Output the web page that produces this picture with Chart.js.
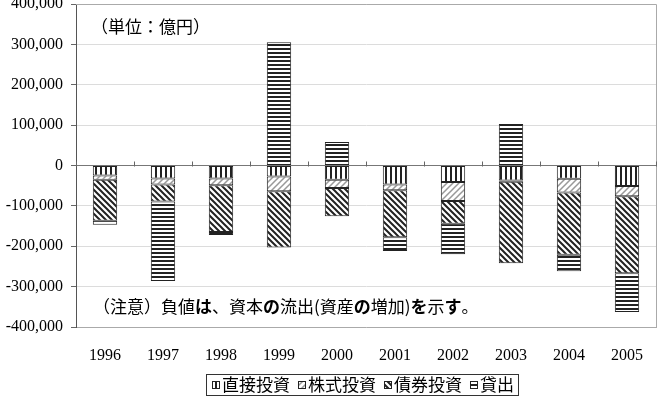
<!DOCTYPE html>
<html>
<head>
<meta charset="utf-8">
<script src="https://cdn.jsdelivr.net/npm/chart.js@4"></script>
<style>
  html, body { margin: 0; padding: 0; background: #fff; }
  #chart { display: block; }
</style>
</head>
<body>
<canvas id="chart" width="662" height="404"></canvas>
<script>
// 対外投資の内訳 (単位：億円)
const categories = ['1996', '1997', '1998', '1999', '2000', '2001', '2002', '2003', '2004', '2005'];
const directInvest = [-25000, -32000, -32000, -27000, -35000, -47000, -41000, -37000, -33000, -51000];
const stockInvest = [-10000, -15000, -17000, -37000, -21000, -14000, -47000, -3000, -34000, -25000];
const bondInvest = [-102000, -42000, -116000, -139000, -70000, -117000, -56000, -202000, -154000, -191000];
const loans = [-10000, -197000, -7000, 305000, 58000, -34000, -76000, 103000, -41000, -96000];
const seriesNames = ['直接投資', '株式投資', '債券投資', '貸出'];
const yTicks = [-400000, -300000, -200000, -100000, 0, 100000, 200000, 300000, 400000];

const serif = "'Liberation Serif', 'DejaVu Serif', serif";
const jp = "'Noto Sans CJK JP', sans-serif";

// ハッチング用のパターン
function makePattern(kind) {
    const c = document.createElement('canvas');
    const g = c.getContext('2d');
    if (kind === 'vertical') {
        c.width = 5; c.height = 5;
        g.fillStyle = '#fff'; g.fillRect(0, 0, 5, 5);
        g.fillStyle = '#222'; g.fillRect(0, 0, 2, 5);
    } else if (kind === 'horizontal') {
        c.width = 4; c.height = 4;
        g.fillStyle = '#fff'; g.fillRect(0, 0, 4, 4);
        g.fillStyle = '#222'; g.fillRect(0, 0, 4, 2);
    } else {
        const s = 6;
        c.width = s; c.height = s;
        g.fillStyle = '#fff'; g.fillRect(0, 0, s, s);
        g.strokeStyle = kind === 'slash' ? '#999' : '#222';
        g.lineWidth = kind === 'slash' ? 1.5 : 2;
        g.beginPath();
        if (kind === 'slash') {
            g.moveTo(-1, s + 1); g.lineTo(s + 1, -1);
            g.moveTo(-1, 1); g.lineTo(1, -1);
            g.moveTo(s - 1, s + 1); g.lineTo(s + 1, s - 1);
        } else {
            g.moveTo(-1, -1); g.lineTo(s + 1, s + 1);
            g.moveTo(-1, s - 1); g.lineTo(1, s + 1);
            g.moveTo(s - 1, -1); g.lineTo(s + 1, 1);
        }
        g.stroke();
    }
    return document.getElementById('chart').getContext('2d').createPattern(c, 'repeat');
}

const patterns = [makePattern('vertical'), makePattern('slash'), makePattern('backslash'), makePattern('horizontal')];

// 枠線・目盛り・注記・凡例
const decorPlugin = {
    id: 'decor',
    beforeDatasetsDraw(chart) {
        const { ctx, chartArea: a, scales } = chart;
        ctx.save();
        ctx.strokeStyle = '#aaa';
        ctx.lineWidth = 1;
        ctx.beginPath();
        ctx.moveTo(a.left, a.top + 0.5); ctx.lineTo(a.right + 0.5, a.top + 0.5);
        ctx.lineTo(a.right + 0.5, a.bottom);
        ctx.stroke();
        // ゼロ線上の区切り目盛り
        const y0 = Math.round(scales.y.getPixelForValue(0)) + 0.5;
        ctx.strokeStyle = '#666';
        ctx.beginPath();
        for (let i = 0; i <= categories.length; i++) {
            const x = Math.round(scales.x.getPixelForValue(i - 0.5)) + 0.5;
            ctx.moveTo(x, y0); ctx.lineTo(x, y0 - 5);
        }
        ctx.stroke();
        ctx.restore();
    },
    afterDraw(chart) {
        const { ctx } = chart;
        ctx.save();
        ctx.fillStyle = '#000';
        ctx.textBaseline = 'middle';
        ctx.font = '17px ' + jp;
        ctx.fillText('（単位：億円）', 91, 27);

        // 注記 (かなは太字)
        let x = 93;
        const note = '（注意）負値は、資本の流出(資産の増加)を示す。';
        for (const ch of note) {
            const bold = /[\u3041-\u309f]/.test(ch);
            ctx.font = (bold ? 'bold ' : '') + '17px ' + jp;
            ctx.fillText(ch, x, 307);
            x += ctx.measureText(ch).width;
        }

        // 凡例
        ctx.font = '17px ' + jp;
        const box = 8, gap = 2, itemGap = 8;
        const widths = seriesNames.map(n => box + gap + ctx.measureText(n).width);
        const total = widths.reduce((s, w) => s + w, 0) + itemGap * (seriesNames.length - 1);
        const cx = 363;
        let lx = Math.round(cx - total / 2);
        const ly = 385;
        ctx.strokeStyle = '#333';
        ctx.lineWidth = 1;
        ctx.strokeRect(lx - 5.5, 374.5, total + 10, 21);
        seriesNames.forEach((n, i) => {
            ctx.fillStyle = patterns[i];
            ctx.fillRect(lx, ly - 4, box, box);
            ctx.strokeStyle = '#222';
            ctx.strokeRect(lx + 0.5, ly - 3.5, box - 1, box - 1);
            ctx.fillStyle = '#000';
            ctx.fillText(n, lx + box + gap, ly);
            lx += widths[i] + itemGap;
        });
        ctx.restore();
    }
};

const seriesData = [directInvest, stockInvest, bondInvest, loans];

new Chart(document.getElementById('chart'), {
    type: 'bar',
    data: {
        labels: categories,
        datasets: seriesNames.map((name, i) => ({
            label: name,
            data: seriesData[i],
            backgroundColor: patterns[i],
            borderColor: '#222',
            borderWidth: 1,
            borderSkipped: false,
            barPercentage: 0.42,
            categoryPercentage: 1
        }))
    },
    options: {
        responsive: false,
        animation: false,
        devicePixelRatio: 1,
        layout: { padding: { top: 4, right: 6, left: 0, bottom: 0 } },
        plugins: {
            legend: { display: false },
            tooltip: { enabled: false }
        },
        scales: {
            x: {
                stacked: true,
                grid: { display: false, drawTicks: false },
                border: { display: true, color: '#aaa' },
                ticks: {
                    font: { size: 16, family: serif },
                    color: '#000',
                    padding: 19,
                    maxRotation: 0
                },
                afterFit(scale) {
                    scale.height = 77;
                    scale.paddingLeft = 0;
                    scale.paddingRight = 0;
                }
            },
            y: {
                stacked: true,
                min: -400000,
                max: 400000,
                afterBuildTicks(scale) {
                    scale.ticks = yTicks.map(v => ({ value: v }));
                },
                grid: {
                    color: ctx => ctx.tick && ctx.tick.value === 0 ? '#777' : '#dcdcdc',
                    tickColor: '#666',
                    tickLength: 5
                },
                border: { display: true, color: '#555' },
                ticks: {
                    font: { size: 16, family: serif },
                    color: '#000',
                    padding: 8,
                    callback: v => v.toLocaleString('en-US')
                },
                afterFit(scale) {
                    scale.width = 76;
                    scale.paddingTop = 0;
                    scale.paddingBottom = 0;
                }
            }
        }
    },
    plugins: [decorPlugin]
});
</script>
</body>
</html>
